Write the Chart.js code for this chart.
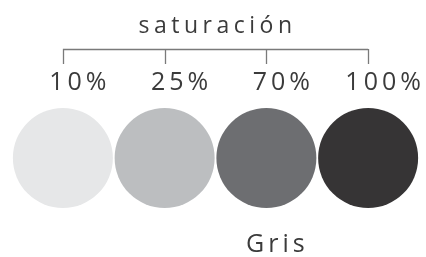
<!DOCTYPE html>
<html>
<head>
<meta charset="utf-8">
<script src="https://cdn.jsdelivr.net/npm/chart.js@4"></script>
<style>
  html, body { margin: 0; padding: 0; background: #fff; }
  #wrap { width: 426px; height: 257px; }
</style>
</head>
<body>
<div id="wrap"><canvas id="grisChart" width="426" height="257"></canvas></div>
<script>
// data
const levels = ['10%', '25%', '70%', '100%'];
const grayColors = ['#e6e7e8', '#bcbec0', '#6d6e71', '#363435'];
const titleText = 'saturación';
const colorName = 'Gris';

const textColor = '#3b3b3b';
const fontFamily = '"Open Sans", sans-serif';

// bracket, labels and texts drawn from the x scale
const bracketPlugin = {
    id: 'bracket',
    afterDraw(chart) {
        const ctx = chart.ctx;
        const xScale = chart.scales.x;
        const first = xScale.getPixelForValue(0);
        const last = xScale.getPixelForValue(levels.length - 1);
        ctx.save();

        // title
        ctx.fillStyle = textColor;
        ctx.font = '23px ' + fontFamily;
        ctx.letterSpacing = '4.5px';
        ctx.textAlign = 'center';
        ctx.textBaseline = 'alphabetic';
        ctx.fillText(titleText, (first + last) / 2 + 2, 33);

        // bracket
        ctx.strokeStyle = '#7a7a7a';
        ctx.lineWidth = 1.3;
        ctx.beginPath();
        ctx.moveTo(first, 49.5);
        ctx.lineTo(last, 49.5);
        levels.forEach((lvl, i) => {
            const px = Math.round(xScale.getPixelForValue(i)) + 0.5;
            ctx.moveTo(px, 49);
            ctx.lineTo(px, 64);
        });
        ctx.stroke();

        // level labels
        ctx.font = '25px ' + fontFamily;
        ctx.letterSpacing = '4px';
        levels.forEach((lvl, i) => {
            ctx.fillText(lvl, xScale.getPixelForValue(i) + 17, 90);
        });

        // color name under the chart
        ctx.font = '25px ' + fontFamily;
        ctx.letterSpacing = '4px';
        ctx.fillText(colorName, xScale.getPixelForValue(2) + 11, 252);
        ctx.restore();
    }
};

const ctx = document.getElementById('grisChart').getContext('2d');
const grisChart = new Chart(ctx, {
    type: 'scatter',
    data: {
        datasets: [{
            data: levels.map((lvl, i) => ({ x: i, y: 0 })),
            pointRadius: 50,
            pointHoverRadius: 50,
            pointBackgroundColor: grayColors,
            pointBorderWidth: 0,
            borderWidth: 0,
            clip: false
        }]
    },
    options: {
        responsive: false,
        animation: false,
        layout: {
            autoPadding: false,
            padding: { top: 108, bottom: 49, left: 12, right: 7 }
        },
        plugins: {
            legend: { display: false },
            tooltip: { enabled: false }
        },
        scales: {
            x: { type: 'linear', min: -0.5, max: levels.length - 0.5, display: false },
            y: { min: -1, max: 1, display: false }
        }
    },
    plugins: [bracketPlugin]
});
</script>
</body>
</html>
